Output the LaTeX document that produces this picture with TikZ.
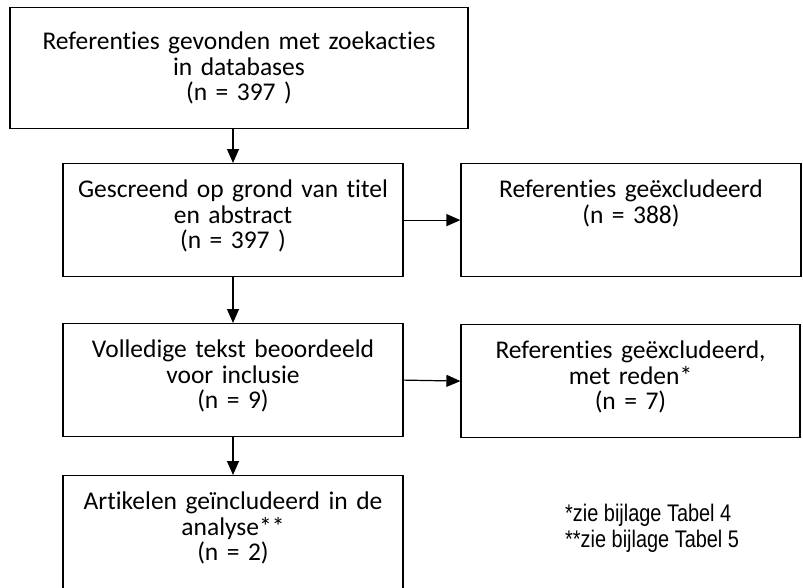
\documentclass[tikz,border=0pt]{standalone}
\usepackage{fontspec}
\setmainfont[Ligatures=NoCommon]{Carlito}
\newfontfamily\voetfont[FakeStretch=0.83]{Liberation Sans}
\usetikzlibrary{arrows.meta}
\tikzset{
  stap/.style={draw, line width=1.2pt, anchor=north, align=center,
    inner xsep=0pt, inner ysep=0pt, text height=34pt, text depth=79pt,
    font=\fontsize{25.5}{25.5}\selectfont},
  pijl/.style={line width=1.2pt, -{Triangle[length=14pt,width=12pt]}}
}
\begin{document}
\begin{tikzpicture}[x=1pt,y=-1pt]
\useasboundingbox (0,0) rectangle (803,587);
\clip (0,0) rectangle (803,587);
\node[stap, text width=458pt, text height=42pt] (zoek) at (239,7) {Referenties gevonden met zoekacties\\in databases\\(n = 397 )};
\node[stap, text width=340pt] (scherm) at (233,163) {Gescreend op grond van titel\\en abstract\\(n = 397 )};
\node[stap, text width=340pt] (tekst) at (233,323) {Volledige tekst beoordeeld\\voor inclusie\\(n = 9)};
\node[stap, text width=340pt, text depth=90pt] (incl) at (233,475) {Artikelen geïncludeerd in de\\analyse**\\(n = 2)};
\node[stap, text width=340pt] (excla) at (631,163) {Referenties geëxcludeerd\\(n = 388)};
\node[stap, text width=339pt] (exclb) at (630.5,324) {Referenties geëxcludeerd,\\met reden*\\(n = 7)};
\node[anchor=north west, align=left, inner sep=0pt, font=\voetfont\fontsize{24}{26}\selectfont] (noot) at (565,504) {*zie bijlage Tabel 4\\**zie bijlage Tabel 5};
\draw[pijl] (zoek.south -| scherm.north) -- (scherm.north);
\draw[pijl] (scherm.south) -- (tekst.north);
\draw[pijl] (tekst.south) -- (incl.north);
\draw[pijl] (scherm.east) -- (excla.west);
\draw[pijl] (tekst.east) -- (exclb.west);
\end{tikzpicture}
\end{document}
